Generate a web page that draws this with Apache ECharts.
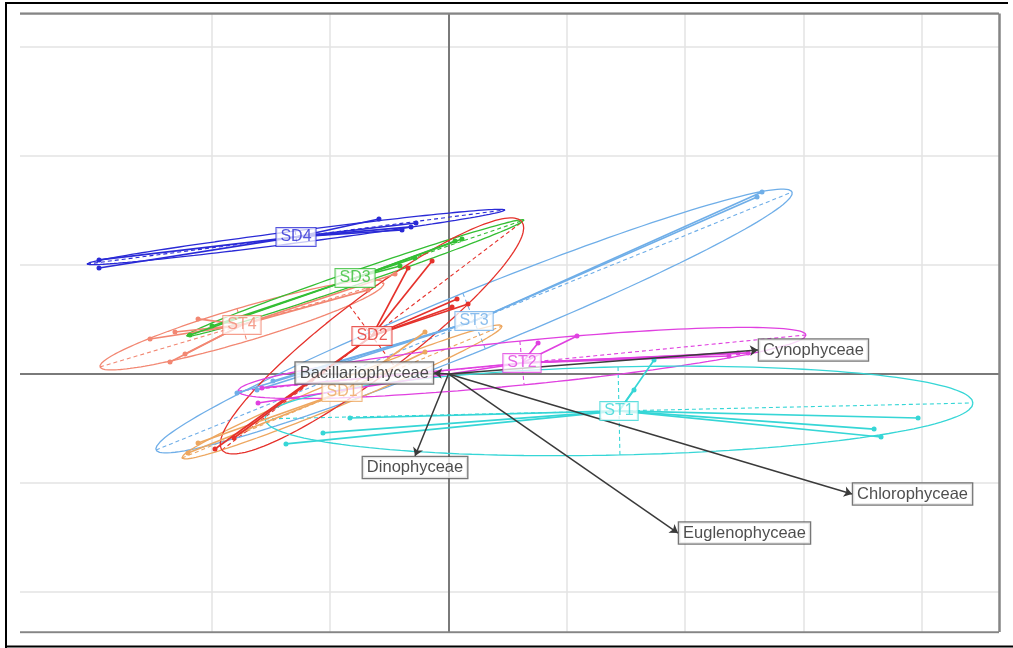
<!DOCTYPE html>
<html><head><meta charset="utf-8">
<script src="https://cdn.jsdelivr.net/npm/echarts@6/dist/echarts.min.js"></script>
<style>html,body{margin:0;padding:0;background:#fff}#c{width:1013px;height:648px}</style>
</head><body><div id="c"></div>
<script>
// ---------------- data (units: one grid cell) ----------------
const xGridTicks = [-2, -1, 1, 2, 3, 4];
const yGridTicks = [-2, -1, 1, 2, 3];
const xRange = [-3.622, 4.653];
const yRange = [-2.367, 3.307];

const groupNames = ['SD1', 'SD2', 'SD3', 'SD4', 'ST1', 'ST2', 'ST3', 'ST4'];

const SD1_points = [[-0.199, 0.385], [-0.199, 0.202], [-2.117, -0.633], [-2.202, -0.725]];
const SD1_center = [-0.900, -0.165];
const SD1_ellipse = [1.353, 0.606, 0.037, -0.103];

const SD2_points = [[-0.342, 0.972], [-0.139, 1.037], [0.030, 0.615], [0.072, 0.688], [0.165, 0.642], [-1.813, -0.587], [-1.974, -0.688]];
const SD2_center = [-0.647, 0.349];
const SD2_ellipse = [1.268, 1.046, 0.192, -0.280];

const SD3_points = [[-2.185, 0.358], [-1.999, 0.440], [-0.410, 0.991], [-0.283, 1.064], [0.055, 1.220], [0.114, 1.239]];
const SD3_center = [-0.790, 0.881];
const SD3_ellipse = [1.429, 0.532, 0.019, -0.061];

const SD4_points = [[-2.954, 1.046], [-2.954, 0.972], [-0.588, 1.422], [-0.393, 1.321], [-0.317, 1.349], [-0.275, 1.385]];
const SD4_center = [-1.289, 1.257];
const SD4_ellipse = [1.767, 0.248, 0.0065, -0.055];

const ST1_points = [[1.737, 0.128], [1.568, -0.147], [3.969, -0.404], [3.597, -0.505], [3.656, -0.578], [-0.833, -0.404], [-1.061, -0.541], [-1.374, -0.642]];
const ST1_center = [1.441, -0.339];
const ST1_ellipse = [2.992, 0.073, 0.008, -0.404];

const ST2_points = [[2.371, 0.165], [2.447, 0.193], [2.532, 0.193], [1.086, 0.349], [0.757, 0.284], [-1.610, -0.266], [-1.577, -0.128]];
const ST2_center = [0.621, 0.101];
const ST2_ellipse = [2.401, 0.257, 0.018, -0.201];

const ST3_points = [[2.650, 1.670], [2.608, 1.624], [-1.788, -0.174], [-1.619, -0.147], [-1.484, -0.064]];
const ST3_center = [0.216, 0.486];
const ST3_ellipse = [2.688, 1.183, 0.095, -0.255];

const ST4_points = [[-2.523, 0.321], [-2.312, 0.385], [-2.117, 0.505], [-2.354, 0.110], [-2.227, 0.183], [-0.452, 0.917], [-0.680, 0.771]];
const ST4_center = [-1.746, 0.450];
const ST4_ellipse = [1.200, 0.385, 0.042, -0.149];

const speciesNames = ['Cynophyceae', 'Bacillariophyceae', 'Dinophyceae', 'Euglenophyceae', 'Chlorophyceae'];
const speciesX = [2.616, -0.123, -0.283, 1.940, 3.411];
const speciesY = [0.220, 0.009, -0.752, -1.459, -1.101];

// ---------------- build ----------------
const groups = {
  SD1: { pts: SD1_points, c: SD1_center, e: SD1_ellipse, color: '#EDA760' },
  SD2: { pts: SD2_points, c: SD2_center, e: SD2_ellipse, color: '#E5312B' },
  SD3: { pts: SD3_points, c: SD3_center, e: SD3_ellipse, color: '#34BE34' },
  SD4: { pts: SD4_points, c: SD4_center, e: SD4_ellipse, color: '#2A2AD6' },
  ST1: { pts: ST1_points, c: ST1_center, e: ST1_ellipse, color: '#36D6D6' },
  ST2: { pts: ST2_points, c: ST2_center, e: ST2_ellipse, color: '#E040E0' },
  ST3: { pts: ST3_points, c: ST3_center, e: ST3_ellipse, color: '#6FAEE8' },
  ST4: { pts: ST4_points, c: ST4_center, e: ST4_ellipse, color: '#F28772' }
};
const labelPos = { Cynophyceae: 'right', Bacillariophyceae: 'left', Dinophyceae: 'bottom', Euglenophyceae: 'right', Chlorophyceae: 'right' };
const FONT = "'Liberation Sans', Arial, sans-serif";

function ellipsePts(c, e) {
  const out = [];
  for (let i = 0; i <= 160; i++) {
    const t = i / 160 * 2 * Math.PI;
    out.push([c[0] + e[0] * Math.cos(t) + e[2] * Math.sin(t), c[1] + e[1] * Math.cos(t) + e[3] * Math.sin(t)]);
  }
  return out;
}

const series = [];
// grid lines
series.push({
  type: 'lines', coordinateSystem: 'cartesian2d', silent: true, z: 1,
  lineStyle: { color: '#e3e3e3', width: 1.5, opacity: 1 },
  data: xGridTicks.map(x => ({ coords: [[x, yRange[0]], [x, yRange[1]]] }))
    .concat(yGridTicks.map(y => ({ coords: [[xRange[0], y], [xRange[1], y]] })))
});
// zero axes
series.push({
  type: 'lines', coordinateSystem: 'cartesian2d', silent: true, z: 2,
  lineStyle: { color: '#7a7a7a', width: 2, opacity: 1 },
  data: [{ coords: [[0, yRange[0]], [0, yRange[1]]] }, { coords: [[xRange[0], 0], [xRange[1], 0]] }]
});
// panel frame (top, right, bottom)
series.push({
  type: 'lines', coordinateSystem: 'cartesian2d', silent: true, z: 2,
  lineStyle: { color: '#858585', width: 2.5, opacity: 1 },
  data: [
    { coords: [[xRange[0], yRange[1]], [xRange[1], yRange[1]]] },
    { coords: [[xRange[1], yRange[1]], [xRange[1], yRange[0]]] },
    { coords: [[xRange[0], yRange[0]], [xRange[1], yRange[0]]] }
  ]
});

const drawOrder = ['ST3', 'SD1', 'ST4', 'SD4', 'SD3', 'SD2', 'ST2', 'ST1'];
drawOrder.forEach(name => {
  const g = groups[name];
  const c = g.c, e = g.e;
  series.push({
    type: 'line', data: ellipsePts(c, e), showSymbol: false, silent: true, z: 3,
    lineStyle: { color: g.color, width: 1.3 }
  });
  series.push({
    type: 'lines', coordinateSystem: 'cartesian2d', silent: true, z: 3,
    lineStyle: { color: g.color, width: 1.1, type: [4, 3], opacity: 1 },
    data: [
      { coords: [[c[0] - e[0], c[1] - e[1]], [c[0] + e[0], c[1] + e[1]]] },
      { coords: [[c[0] - e[2], c[1] - e[3]], [c[0] + e[2], c[1] + e[3]]] }
    ]
  });
  series.push({
    type: 'lines', coordinateSystem: 'cartesian2d', silent: true, z: 4,
    lineStyle: { color: g.color, width: 1.7, opacity: 1 },
    data: g.pts.map(p => ({ coords: [c, p] }))
  });
  series.push({
    type: 'scatter', data: g.pts, symbolSize: 5, silent: true, z: 5,
    itemStyle: { color: g.color, opacity: 1 }
  });
});

// species arrows
series.push({
  type: 'lines', coordinateSystem: 'cartesian2d', silent: true, z: 6,
  symbol: ['none', 'arrow'], symbolSize: 8,
  lineStyle: { color: '#3a3a3a', width: 1.5, opacity: 1 },
  data: speciesNames.map((n, i) => ({ coords: [[0, 0], [speciesX[i], speciesY[i]]] }))
});

// group labels
drawOrder.forEach(name => {
  const g = groups[name];
  series.push({
    type: 'scatter', data: [g.c], symbolSize: 0, silent: true, z: 7,
    label: {
      show: true, position: 'inside', formatter: name,
      color: g.color, fontSize: 16, fontFamily: FONT, lineHeight: 17,
      backgroundColor: 'rgba(255,255,255,0.92)', borderColor: g.color, borderWidth: 1,
      padding: [1, 4, 0, 4]
    }
  });
});

// species labels
speciesNames.forEach((n, i) => {
  series.push({
    type: 'scatter', data: [[speciesX[i], speciesY[i]]], symbolSize: 0, silent: true, z: 8,
    label: {
      show: true, position: labelPos[n], distance: 1, formatter: n,
      color: '#222', fontSize: 16.5, fontFamily: FONT, lineHeight: 17,
      backgroundColor: '#fff', borderColor: '#555', borderWidth: 1.3,
      padding: [2, 4, 2, 4]
    }
  });
});

const chart = echarts.init(document.getElementById('c'), null, { renderer: 'canvas' });
chart.setOption({
  animation: false,
  backgroundColor: '#fff',
  grid: { left: 20, right: 14, top: 13.5, bottom: 16 },
  xAxis: { type: 'value', min: xRange[0], max: xRange[1], show: false },
  yAxis: { type: 'value', min: yRange[0], max: yRange[1], show: false },
  graphic: [
    { type: 'line', shape: { x1: 6, y1: 3, x2: 6, y2: 648 }, style: { stroke: '#000', lineWidth: 2 } },
    { type: 'line', shape: { x1: 5, y1: 3, x2: 1008, y2: 3 }, style: { stroke: '#000', lineWidth: 2 } },
    { type: 'line', shape: { x1: 5, y1: 646.5, x2: 1013, y2: 646.5 }, style: { stroke: '#000', lineWidth: 2 } }
  ],
  series: series
});
</script>
</body></html>
